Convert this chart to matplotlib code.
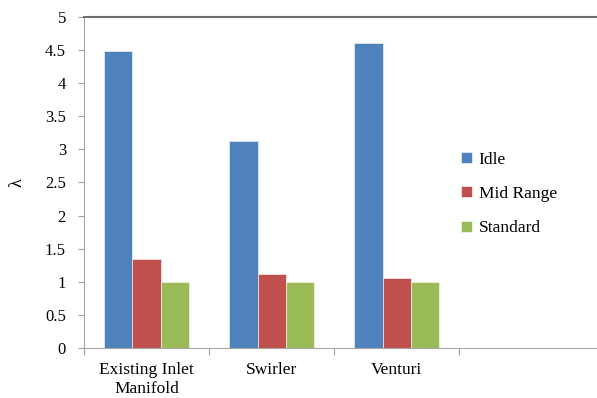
import matplotlib.pyplot as plt
import numpy as np

categories = ["Existing Inlet\nManifold", "Swirler", "Venturi"]
idle = [4.48, 3.13, 4.60]
mid_range = [1.35, 1.11, 1.06]
standard = [1.0, 1.0, 1.0]
series_names = ["Idle", "Mid Range", "Standard"]
colors = ["#4F81BD", "#C0504D", "#9BBB59"]

plt.rcParams["font.family"] = "Liberation Serif"

fig = plt.figure(figsize=(5.97, 3.98), dpi=100)
ax = fig.add_axes([0.1407, 0.1256, 0.859, 0.832])

x = np.arange(len(categories))
w = 0.225
for i, (vals, name, c) in enumerate(zip([idle, mid_range, standard], series_names, colors)):
    ax.bar(x + (i - 1) * w, vals, width=w, color=c, label=name,
           edgecolor="white", linewidth=0.4)

ax.set_xlim(-0.5, 3.6)
ax.set_ylim(0, 5)
ax.set_yticks(np.arange(0, 5.01, 0.5))
ax.set_yticklabels(["0", "0.5", "1", "1.5", "2", "2.5", "3", "3.5", "4", "4.5", "5"], fontsize=12)
ax.set_xticks([-0.5, 0.5, 1.5, 2.5])
ax.set_xticklabels([])
ax.set_xticks(x, minor=True)
ax.set_xticklabels(categories, minor=True, fontsize=12.5, linespacing=1.25)
ax.tick_params(axis="x", which="minor", length=0, pad=10)
ax.tick_params(axis="x", which="major", length=5, color="#A0A0A0", direction="out")
ax.tick_params(axis="y", length=4, color="#A0A0A0", pad=9)

ax.spines["left"].set_color("#A6A6A6")
ax.spines["bottom"].set_color("#A6A6A6")
ax.spines["top"].set_color("#6E6E6E")
ax.spines["top"].set_linewidth(1.5)
ax.spines["right"].set_visible(False)

ax.set_ylabel("λ", fontsize=13, labelpad=14)

ax.legend(loc="upper left", bbox_to_anchor=(0.705, 0.64), frameon=False, fontsize=12.5,
          handlelength=0.6, handleheight=0.6, handletextpad=0.4, labelspacing=1.05)

fig.savefig("out.png", dpi=100)
